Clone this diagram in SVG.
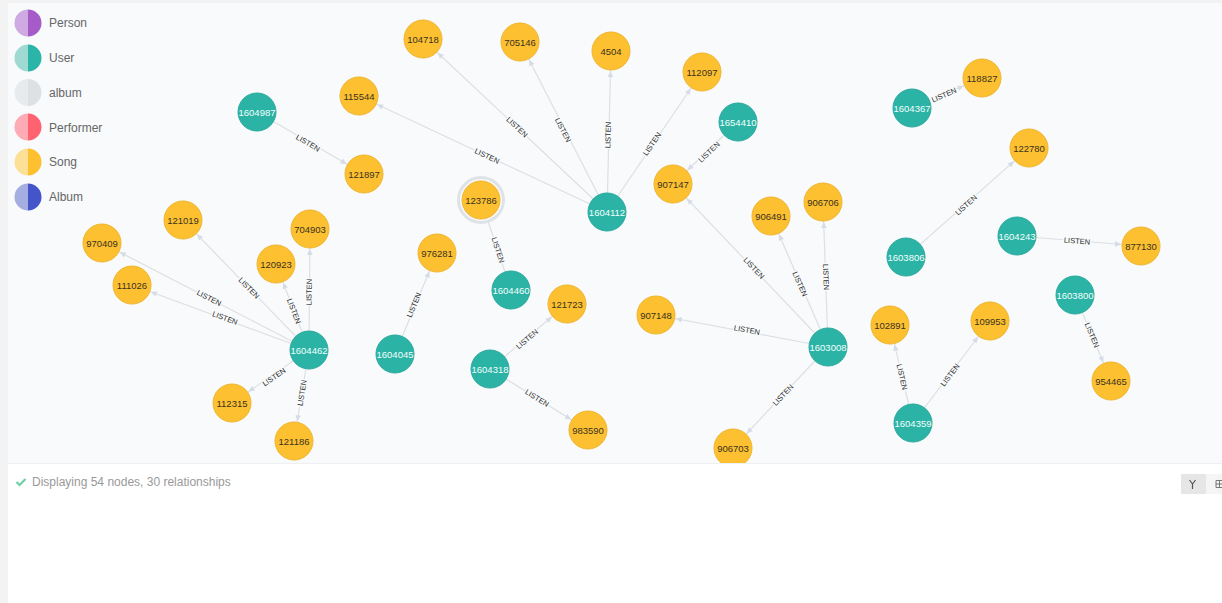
<svg xmlns="http://www.w3.org/2000/svg" width="1222" height="603" viewBox="0 0 1222 603">
<style>
text{font-family:"Liberation Sans",Arial,sans-serif}
.edge{stroke:#dde0e3;stroke-width:1.2;fill:none;marker-end:url(#arrow)}
.plain{marker-end:none}
.lbl rect{fill:#f8fafb}
.lbl text{font-size:7.5px;fill:#2a2a2a;text-anchor:middle}
.song circle{fill:#fdc030;stroke:#efb52f;stroke-width:1}
.user circle{fill:#2bb3a6;stroke:#2aa99d;stroke-width:1}
.song text,.user text{font-size:9.5px;text-anchor:middle}
.song text{fill:#3a3222}
.user text{fill:#f4fffd}
.leg text{font-size:12px;fill:#666}
</style>
<defs>
<marker id="arrow" markerUnits="userSpaceOnUse" markerWidth="8" markerHeight="8" viewBox="0 0 8 8" refX="27" refY="4" orient="auto" overflow="visible">
<path d="M1 1.200 L7 4 L1 6.800 Z" fill="#d6dce6"/>
</marker>
</defs>
<rect width="1222" height="603" fill="#fff"/>
<rect x="8" y="3" width="1214" height="460" fill="#f8fafb"/>
<g id="connectors">
<path class="edge" d="M257 112L364 174"/>
<path class="edge" d="M607 212L359 96"/>
<path class="edge" d="M607 212L423 39"/>
<path class="edge" d="M607 212L520 42"/>
<path class="edge" d="M607 212L611 51"/>
<path class="edge" d="M607 212L702 72"/>
<path class="edge" d="M738 122L673 184"/>
<path class="edge plain" d="M511 290L481 200"/>
<path class="edge" d="M395 354L437 253"/>
<path class="edge" d="M490 369L567 304"/>
<path class="edge" d="M490 369L588 430"/>
<path class="edge" d="M309 350L102 243"/>
<path class="edge" d="M309 350L132 285"/>
<path class="edge" d="M309 350L183 220"/>
<path class="edge" d="M309 350L276 264"/>
<path class="edge" d="M309 350L310 229"/>
<path class="edge" d="M309 350L232 403"/>
<path class="edge" d="M309 350L294 441"/>
<path class="edge" d="M828 347L673 184"/>
<path class="edge" d="M828 347L771 216"/>
<path class="edge" d="M828 347L823 202"/>
<path class="edge" d="M828 347L656 315"/>
<path class="edge" d="M828 347L733 448"/>
<path class="edge" d="M912 108L982 78"/>
<path class="edge" d="M906 257L1029 148"/>
<path class="edge" d="M1017 236L1141 246"/>
<path class="edge" d="M1075 295L1111 381"/>
<path class="edge" d="M913 423L890 325"/>
<path class="edge" d="M913 423L990 321"/>
<g class="lbl" transform="translate(308 143) rotate(30.1)"><rect x="-14" y="-4" width="28" height="8"/><text y="2.6">LISTEN</text></g>
<g class="lbl" transform="translate(487 156) rotate(25.1)"><rect x="-14" y="-4" width="28" height="8"/><text y="2.6">LISTEN</text></g>
<g class="lbl" transform="translate(517 127) rotate(43.2)"><rect x="-14" y="-4" width="28" height="8"/><text y="2.6">LISTEN</text></g>
<g class="lbl" transform="translate(563 130) rotate(62.9)"><rect x="-14" y="-4" width="28" height="8"/><text y="2.6">LISTEN</text></g>
<g class="lbl" transform="translate(608 135) rotate(-88.6)"><rect x="-14" y="-4" width="28" height="8"/><text y="2.6">LISTEN</text></g>
<g class="lbl" transform="translate(652 144) rotate(-55.8)"><rect x="-14" y="-4" width="28" height="8"/><text y="2.6">LISTEN</text></g>
<g class="lbl" transform="translate(709 152) rotate(-43.6)"><rect x="-14" y="-4" width="28" height="8"/><text y="2.6">LISTEN</text></g>
<g class="lbl" transform="translate(498 250) rotate(71.6)"><rect x="-14" y="-4" width="28" height="8"/><text y="2.6">LISTEN</text></g>
<g class="lbl" transform="translate(414 305) rotate(-67.4)"><rect x="-14" y="-4" width="28" height="8"/><text y="2.6">LISTEN</text></g>
<g class="lbl" transform="translate(527 339) rotate(-40.2)"><rect x="-14" y="-4" width="28" height="8"/><text y="2.6">LISTEN</text></g>
<g class="lbl" transform="translate(537 398) rotate(31.9)"><rect x="-14" y="-4" width="28" height="8"/><text y="2.6">LISTEN</text></g>
<g class="lbl" transform="translate(209 298) rotate(27.3)"><rect x="-14" y="-4" width="28" height="8"/><text y="2.6">LISTEN</text></g>
<g class="lbl" transform="translate(225 318) rotate(20.2)"><rect x="-14" y="-4" width="28" height="8"/><text y="2.6">LISTEN</text></g>
<g class="lbl" transform="translate(249 288) rotate(45.9)"><rect x="-14" y="-4" width="28" height="8"/><text y="2.6">LISTEN</text></g>
<g class="lbl" transform="translate(294 311) rotate(69)"><rect x="-14" y="-4" width="28" height="8"/><text y="2.6">LISTEN</text></g>
<g class="lbl" transform="translate(309 292) rotate(-89.5)"><rect x="-14" y="-4" width="28" height="8"/><text y="2.6">LISTEN</text></g>
<g class="lbl" transform="translate(274 377) rotate(-34.5)"><rect x="-14" y="-4" width="28" height="8"/><text y="2.6">LISTEN</text></g>
<g class="lbl" transform="translate(302 393) rotate(-80.6)"><rect x="-14" y="-4" width="28" height="8"/><text y="2.6">LISTEN</text></g>
<g class="lbl" transform="translate(754 268) rotate(46.4)"><rect x="-14" y="-4" width="28" height="8"/><text y="2.6">LISTEN</text></g>
<g class="lbl" transform="translate(800 284) rotate(66.5)"><rect x="-14" y="-4" width="28" height="8"/><text y="2.6">LISTEN</text></g>
<g class="lbl" transform="translate(826 277) rotate(88)"><rect x="-14" y="-4" width="28" height="8"/><text y="2.6">LISTEN</text></g>
<g class="lbl" transform="translate(747 330) rotate(10.5)"><rect x="-14" y="-4" width="28" height="8"/><text y="2.6">LISTEN</text></g>
<g class="lbl" transform="translate(783 395) rotate(-46.8)"><rect x="-14" y="-4" width="28" height="8"/><text y="2.6">LISTEN</text></g>
<g class="lbl" transform="translate(944 95) rotate(-23.2)"><rect x="-14" y="-4" width="28" height="8"/><text y="2.6">LISTEN</text></g>
<g class="lbl" transform="translate(966 205) rotate(-41.5)"><rect x="-14" y="-4" width="28" height="8"/><text y="2.6">LISTEN</text></g>
<g class="lbl" transform="translate(1077 241) rotate(4.6)"><rect x="-14" y="-4" width="28" height="8"/><text y="2.6">LISTEN</text></g>
<g class="lbl" transform="translate(1092 335) rotate(67.3)"><rect x="-14" y="-4" width="28" height="8"/><text y="2.6">LISTEN</text></g>
<g class="lbl" transform="translate(902 377) rotate(76.8)"><rect x="-14" y="-4" width="28" height="8"/><text y="2.6">LISTEN</text></g>
<g class="lbl" transform="translate(950 375) rotate(-53)"><rect x="-14" y="-4" width="28" height="8"/><text y="2.6">LISTEN</text></g>
</g>
<g id="n1604987" class="user"><circle cx="257" cy="112" r="19"/><text x="257" y="115.500">1604987</text></g>
<g id="n1604112" class="user"><circle cx="607" cy="212" r="19"/><text x="607" y="215.500">1604112</text></g>
<g id="n1654410" class="user"><circle cx="738" cy="122" r="19"/><text x="738" y="125.500">1654410</text></g>
<g id="n1604460" class="user"><circle cx="511" cy="290" r="19"/><text x="511" y="293.500">1604460</text></g>
<g id="n1604045" class="user"><circle cx="395" cy="354" r="19"/><text x="395" y="357.500">1604045</text></g>
<g id="n1604318" class="user"><circle cx="490" cy="369" r="19"/><text x="490" y="372.500">1604318</text></g>
<g id="n1604462" class="user"><circle cx="309" cy="350" r="19"/><text x="309" y="353.500">1604462</text></g>
<g id="n1603008" class="user"><circle cx="828" cy="347" r="19"/><text x="828" y="350.500">1603008</text></g>
<g id="n1604367" class="user"><circle cx="912" cy="108" r="19"/><text x="912" y="111.500">1604367</text></g>
<g id="n1603806" class="user"><circle cx="906" cy="257" r="19"/><text x="906" y="260.500">1603806</text></g>
<g id="n1604243" class="user"><circle cx="1017" cy="236" r="19"/><text x="1017" y="239.500">1604243</text></g>
<g id="n1603800" class="user"><circle cx="1075" cy="295" r="19"/><text x="1075" y="298.500">1603800</text></g>
<g id="n1604359" class="user"><circle cx="913" cy="423" r="19"/><text x="913" y="426.500">1604359</text></g>
<g id="n104718" class="song"><circle cx="423" cy="39" r="19"/><text x="423" y="42.500">104718</text></g>
<g id="n705146" class="song"><circle cx="520" cy="42" r="19"/><text x="520" y="45.500">705146</text></g>
<g id="n4504" class="song"><circle cx="611" cy="51" r="19"/><text x="611" y="54.500">4504</text></g>
<g id="n112097" class="song"><circle cx="702" cy="72" r="19"/><text x="702" y="75.500">112097</text></g>
<g id="n115544" class="song"><circle cx="359" cy="96" r="19"/><text x="359" y="99.500">115544</text></g>
<g id="n121897" class="song"><circle cx="364" cy="174" r="19"/><text x="364" y="177.500">121897</text></g>
<g id="n123786" class="song"><circle cx="481" cy="200" r="22.500" style="fill:#f8fafb;stroke:#dfe3e8;stroke-width:3"/><circle cx="481" cy="200" r="19"/><text x="481" y="203.500">123786</text></g>
<g id="n907147" class="song"><circle cx="673" cy="184" r="19"/><text x="673" y="187.500">907147</text></g>
<g id="n906491" class="song"><circle cx="771" cy="216" r="19"/><text x="771" y="219.500">906491</text></g>
<g id="n906706" class="song"><circle cx="823" cy="202" r="19"/><text x="823" y="205.500">906706</text></g>
<g id="n118827" class="song"><circle cx="982" cy="78" r="19"/><text x="982" y="81.500">118827</text></g>
<g id="n122780" class="song"><circle cx="1029" cy="148" r="19"/><text x="1029" y="151.500">122780</text></g>
<g id="n877130" class="song"><circle cx="1141" cy="246" r="19"/><text x="1141" y="249.500">877130</text></g>
<g id="n970409" class="song"><circle cx="102" cy="243" r="19"/><text x="102" y="246.500">970409</text></g>
<g id="n121019" class="song"><circle cx="183" cy="220" r="19"/><text x="183" y="223.500">121019</text></g>
<g id="n704903" class="song"><circle cx="310" cy="229" r="19"/><text x="310" y="232.500">704903</text></g>
<g id="n120923" class="song"><circle cx="276" cy="264" r="19"/><text x="276" y="267.500">120923</text></g>
<g id="n111026" class="song"><circle cx="132" cy="285" r="19"/><text x="132" y="288.500">111026</text></g>
<g id="n112315" class="song"><circle cx="232" cy="403" r="19"/><text x="232" y="406.500">112315</text></g>
<g id="n121186" class="song"><circle cx="294" cy="441" r="19"/><text x="294" y="444.500">121186</text></g>
<g id="n976281" class="song"><circle cx="437" cy="253" r="19"/><text x="437" y="256.500">976281</text></g>
<g id="n121723" class="song"><circle cx="567" cy="304" r="19"/><text x="567" y="307.500">121723</text></g>
<g id="n983590" class="song"><circle cx="588" cy="430" r="19"/><text x="588" y="433.500">983590</text></g>
<g id="n907148" class="song"><circle cx="656" cy="315" r="19"/><text x="656" y="318.500">907148</text></g>
<g id="n906703" class="song"><circle cx="733" cy="448" r="19"/><text x="733" y="451.500">906703</text></g>
<g id="n102891" class="song"><circle cx="890" cy="325" r="19"/><text x="890" y="328.500">102891</text></g>
<g id="n109953" class="song"><circle cx="990" cy="321" r="19"/><text x="990" y="324.500">109953</text></g>
<g id="n954465" class="song"><circle cx="1111" cy="381" r="19"/><text x="1111" y="384.500">954465</text></g>
<rect x="8" y="463" width="1214" height="140" fill="#fff"/>
<rect x="8" y="463" width="1214" height="1" fill="#eef0f1"/>
<rect x="0" y="0" width="8" height="603" fill="#f3f3f3"/>
<rect x="0" y="0" width="1222" height="3" fill="#f3f3f3"/>
<g class="leg" id="legend">
<path d="M28 9.500a13.500 13.500 0 0 0 0 27z" fill="#cfa9e2"/><path d="M28 9.500a13.500 13.500 0 0 1 0 27z" fill="#a55cc9"/><text x="49" y="27">Person</text>
<path d="M28 44.500a13.500 13.500 0 0 0 0 27z" fill="#9ed9d2"/><path d="M28 44.500a13.500 13.500 0 0 1 0 27z" fill="#2bb5a8"/><text x="49" y="62">User</text>
<path d="M28 79a13.500 13.500 0 0 0 0 27z" fill="#e8ebed"/><path d="M28 79a13.500 13.500 0 0 1 0 27z" fill="#dde1e4"/><text x="49" y="97">album</text>
<path d="M28 113.500a13.500 13.500 0 0 0 0 27z" fill="#ffabb5"/><path d="M28 113.500a13.500 13.500 0 0 1 0 27z" fill="#ff6270"/><text x="49" y="131.500">Performer</text>
<path d="M28 148.500a13.500 13.500 0 0 0 0 27z" fill="#fde098"/><path d="M28 148.500a13.500 13.500 0 0 1 0 27z" fill="#fdc030"/><text x="49" y="166">Song</text>
<path d="M28 183.500a13.500 13.500 0 0 0 0 27z" fill="#a4aee0"/><path d="M28 183.500a13.500 13.500 0 0 1 0 27z" fill="#4355c8"/><text x="49" y="201">Album</text>
</g>
<path d="M16.500 482l3 3 6-6" fill="none" stroke="#6fd0a8" stroke-width="2.200"/>
<text x="32" y="485.500" font-size="12" fill="#999">Displaying 54 nodes, 30 relationships</text>
<rect x="1181" y="474" width="25" height="20" fill="#e6e6e6"/>
<rect x="1206" y="474" width="16" height="20" fill="#f5f5f5"/>
<path d="M1189.500 480l3 4 3-4M1192.500 484v5" fill="none" stroke="#555" stroke-width="1.200"/>
<path d="M1216 480.500h6M1216 484h6M1216 487.500h6M1216 480.500v7M1219.500 480.500v7" fill="none" stroke="#777" stroke-width="1"/>
</svg>
